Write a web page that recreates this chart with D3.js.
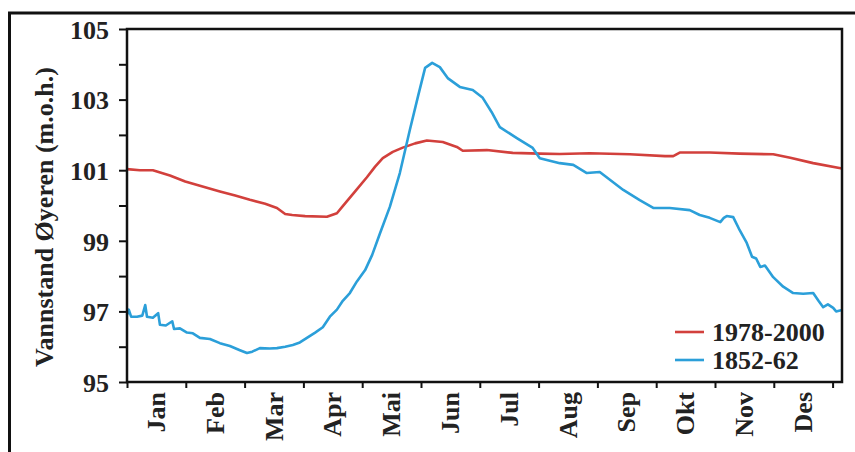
<!DOCTYPE html>
<html>
<head>
<meta charset="utf-8">
<script src="https://cdn.jsdelivr.net/npm/d3@7"></script>
<style>
  html, body { margin: 0; padding: 0; background: #fff; }
  svg { display: block; }
</style>
</head>
<body>
<svg id="chart" width="855" height="452"></svg>
<script>
// Month labels (Norwegian)
const months = ["Jan", "Feb", "Mar", "Apr", "Mai", "Jun", "Jul", "Aug", "Sep", "Okt", "Nov", "Des"];

// Y tick values (m.o.h.); only odd ones carry labels
const yTicks = [95, 96, 97, 98, 99, 100, 101, 102, 103, 104, 105];

// Series names
const seriesNames = ["1978-2000", "1852-62"];

// Time in months from 1 January, water level in m.o.h. — 1978-2000 mean
const recentMonth = [0, 0.22, 0.44, 0.73, 0.99, 1.24, 1.58, 1.84, 2.09, 2.35, 2.55, 2.69, 2.81, 3.03, 3.40, 3.57, 3.67, 3.88, 4.08, 4.22, 4.35, 4.52, 4.69, 4.90, 5.10, 5.37, 5.61, 5.71, 6.12, 6.56, 7.02, 7.36, 7.87, 8.55, 9.15, 9.29, 9.40, 9.91, 10.42, 10.99, 11.28, 11.67, 12.16];
const recentLevel = [101.03, 101.0, 101.0, 100.85, 100.68, 100.56, 100.4, 100.28, 100.16, 100.05, 99.93, 99.76, 99.73, 99.7, 99.68, 99.78, 99.98, 100.4, 100.8, 101.1, 101.34, 101.52, 101.64, 101.76, 101.84, 101.8, 101.66, 101.55, 101.57, 101.49, 101.47, 101.46, 101.48, 101.45, 101.4, 101.4, 101.5, 101.5, 101.47, 101.45, 101.35, 101.2, 101.05];

// 1852-62 mean
const earlyMonth = [0, 0.03, 0.07, 0.17, 0.26, 0.31, 0.34, 0.44, 0.53, 0.56, 0.66, 0.77, 0.80, 0.90, 1.02, 1.12, 1.24, 1.41, 1.58, 1.75, 1.92, 2.04, 2.13, 2.26, 2.43, 2.55, 2.69, 2.82, 2.94, 3.06, 3.20, 3.33, 3.45, 3.57, 3.67, 3.79, 3.91, 4.05, 4.17, 4.30, 4.47, 4.64, 4.81, 4.95, 5.07, 5.19, 5.32, 5.46, 5.66, 5.88, 6.05, 6.20, 6.34, 6.63, 6.90, 7.02, 7.36, 7.59, 7.82, 8.04, 8.44, 8.72, 8.95, 9.23, 9.57, 9.74, 9.91, 10.09, 10.15, 10.20, 10.31, 10.42, 10.54, 10.63, 10.70, 10.77, 10.85, 10.99, 11.16, 11.33, 11.50, 11.67, 11.76, 11.84, 11.92, 12.01, 12.06, 12.16];
const earlyLevel = [96.9, 97.05, 96.85, 96.85, 96.88, 97.18, 96.85, 96.82, 96.95, 96.62, 96.6, 96.72, 96.5, 96.52, 96.4, 96.38, 96.25, 96.22, 96.1, 96.02, 95.9, 95.82, 95.86, 95.96, 95.95, 95.96, 96.0, 96.05, 96.12, 96.25, 96.4, 96.55, 96.85, 97.05, 97.3, 97.52, 97.85, 98.17, 98.6, 99.2, 99.96, 100.92, 102.14, 103.1, 103.9, 104.04, 103.92, 103.6, 103.36, 103.27, 103.05, 102.65, 102.22, 101.91, 101.63, 101.34, 101.2, 101.15, 100.92, 100.95, 100.44, 100.15, 99.93, 99.93, 99.87, 99.73, 99.65, 99.53, 99.65, 99.7, 99.67, 99.3, 98.94, 98.55, 98.5, 98.26, 98.3, 97.97, 97.7, 97.52, 97.5, 97.52, 97.3, 97.12, 97.2, 97.1, 97.0, 97.04];

const colors = ["#d2403c", "#2b9fd9"];
const FONT = "'Liberation Serif', 'Times New Roman', Times, serif";

// Bold serif label styling
function serifLabel(sel, size) {
  sel.style("font-family", FONT)
    .style("font-weight", "bold")
    .style("font-size", size + "px")
    .attr("fill", "#222");
}

const svg = d3.select("#chart");

// Outer frame (top and left edges visible)
svg.append("rect")
  .attr("x", 9.5).attr("y", 13)
  .attr("width", 900).attr("height", 500)
  .attr("fill", "none").attr("stroke", "#111").attr("stroke-width", 3);

const plot = { left: 127, top: 29, right: 842, bottom: 382 };

const x = d3.scaleLinear().domain([0, 12.16]).range([plot.left, plot.right]);
const y = d3.scaleLinear().domain([95, 105]).range([plot.bottom, plot.top]);

// Series lines
const line = d3.line().x(d => x(d[0])).y(d => y(d[1]));
const series = [
  d3.zip(recentMonth, recentLevel),
  d3.zip(earlyMonth, earlyLevel)
];
svg.append("g").selectAll("path")
  .data(series)
  .join("path")
  .attr("d", line)
  .attr("fill", "none")
  .attr("stroke", (d, i) => colors[i])
  .attr("stroke-width", 2.6)
  .attr("stroke-linejoin", "round");

// Plot box
svg.append("rect")
  .attr("x", plot.left).attr("y", plot.top)
  .attr("width", plot.right - plot.left).attr("height", plot.bottom - plot.top)
  .attr("fill", "none").attr("stroke", "#111").attr("stroke-width", 2.5);

// Y axis
const yAxis = svg.append("g")
  .attr("transform", `translate(${plot.left},0)`)
  .call(d3.axisLeft(y).tickValues(yTicks).tickSize(8).tickPadding(10)
    .tickFormat(d => d % 2 === 1 ? d : ""));
yAxis.select(".domain").remove();
yAxis.selectAll(".tick line").attr("stroke", "#111").attr("stroke-width", 2);
yAxis.selectAll(".tick text").attr("dy", "0.36em").call(serifLabel, 26);

// X axis: ticks at month boundaries, labels centred in each month
const xAxis = svg.append("g")
  .attr("transform", `translate(0,${plot.bottom})`)
  .call(d3.axisBottom(x).tickValues(d3.range(0, 13)).tickSize(6).tickFormat(""));
xAxis.select(".domain").remove();
xAxis.selectAll(".tick line").attr("stroke", "#111").attr("stroke-width", 2);

svg.append("g").selectAll("text")
  .data(months)
  .join("text")
  .attr("text-anchor", "end")
  .attr("dy", "0.33em")
  .attr("transform", (d, i) => `translate(${x(i + 0.5)},${plot.bottom + 10}) rotate(-90)`)
  .text(d => d)
  .call(serifLabel, 26);

// Y axis title
svg.append("text")
  .attr("text-anchor", "middle")
  .attr("transform", `translate(53,217) rotate(-90)`)
  .text("Vannstand Øyeren (m.o.h.)")
  .call(serifLabel, 26);

// Legend
const legend = svg.append("g");
seriesNames.forEach((name, i) => {
  const ly = 332 + i * 28;
  legend.append("line")
    .attr("x1", 675).attr("x2", 704)
    .attr("y1", ly).attr("y2", ly)
    .attr("stroke", colors[i]).attr("stroke-width", 2.6);
  legend.append("text")
    .attr("x", 712).attr("y", ly)
    .attr("dy", "0.35em")
    .text(name)
    .call(serifLabel, 26);
});
</script>
</body>
</html>
